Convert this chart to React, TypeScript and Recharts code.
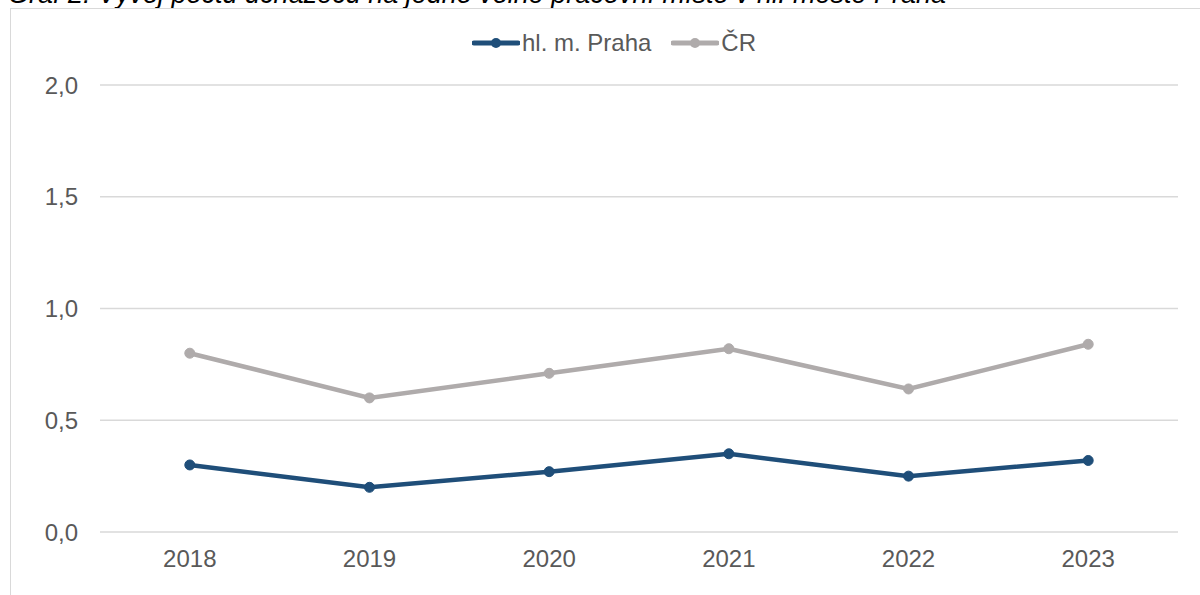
import React from 'react';
import { LineChart, Line, XAxis, YAxis, CartesianGrid } from 'recharts';

const years = ['2018', '2019', '2020', '2021', '2022', '2023'];
const praha = [0.3, 0.2, 0.27, 0.35, 0.25, 0.32];
const cr = [0.8, 0.6, 0.71, 0.82, 0.64, 0.84];
const yTicks = [0, 0.5, 1, 1.5, 2];

const PRAHA_COLOR = '#1f4e79';
const CR_COLOR = '#afabab';
const TEXT = '#595959';
const FONT = '"Liberation Sans", Arial, sans-serif';

const data = years.map((year, i) => ({ year, praha: praha[i], cr: cr[i] }));

const series = [
  { key: 'praha', name: 'hl. m. Praha', color: PRAHA_COLOR },
  { key: 'cr', name: 'ČR', color: CR_COLOR },
];

const LegendRow = () => (
  <div style={{ display: 'flex', justifyContent: 'center', alignItems: 'center', fontFamily: FONT, fontSize: 24, color: TEXT, lineHeight: '26px' }}>
    {series.map((s, i) => (
      <div key={s.key} style={{ display: 'flex', alignItems: 'center', marginLeft: i ? 20 : 0 }}>
        <svg width={48} height={12} style={{ marginRight: 2 }}>
          <line x1={2} y1={6} x2={46} y2={6} stroke={s.color} strokeWidth={5} strokeLinecap="round" />
          <circle cx={24} cy={6} r={5} fill={s.color} />
        </svg>
        <span>{s.name}</span>
      </div>
    ))}
  </div>
);

export default function App() {
  return (
    <div style={{ position: 'absolute', left: 0, top: 0, width: 1200, height: 595, overflow: 'hidden', background: '#fff' }}>
      <div
        style={{
          position: 'absolute', left: 8, top: -21, fontFamily: FONT, fontStyle: 'italic',
          fontSize: 27, color: '#000', whiteSpace: 'nowrap',
        }}
      >
        Graf 2: Vývoj počtu uchazečů na jedno volné pracovní místo v hl. městě Praha
      </div>
      <div
        style={{
          position: 'absolute', left: 10, top: 8, width: 1200, height: 600,
          border: '1.5px solid #d9d9d9', background: '#fff',
        }}
      />
      <div style={{ position: 'absolute', left: 14, top: 30, width: 1200 }}>
        <LegendRow />
      </div>
      <div style={{ position: 'absolute', left: 0, top: 0 }}>
        <LineChart width={1200} height={595} data={data} margin={{ top: 85, right: 22, bottom: 23, left: 10 }}>
          <CartesianGrid vertical={false} stroke="#d9d9d9" strokeWidth={1.5} />
          <XAxis
            dataKey="year"
            axisLine={false}
            tickLine={false}
            tickSize={0}
            tickMargin={18}
            height={40}
            padding={{ left: 89.8, right: 89.8 }}
            tick={{ fill: TEXT, fontSize: 24, fontFamily: FONT }}
          />
          <YAxis
            domain={[0, 2]}
            ticks={yTicks}
            width={90}
            axisLine={false}
            tickLine={false}
            tickSize={0}
            tickMargin={22}
            tickFormatter={(v: number) => v.toFixed(1).replace('.', ',')}
            tick={{ fill: TEXT, fontSize: 24, fontFamily: FONT }}
          />
          {series.slice().reverse().map((s) => (
            <Line
              key={s.key}
              type="linear"
              dataKey={s.key}
              name={s.name}
              stroke={s.color}
              strokeWidth={4.5}
              dot={{ r: 5, fill: s.color, stroke: s.color, strokeWidth: 1 }}
              isAnimationActive={false}
            />
          ))}
        </LineChart>
      </div>
    </div>
  );
}
